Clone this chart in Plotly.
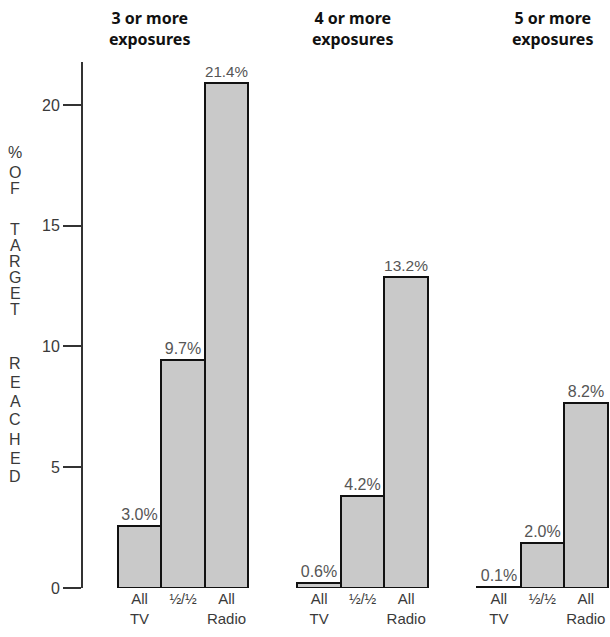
import plotly.graph_objects as go

groups = ["3 or more<br>exposures", "4 or more<br>exposures", "5 or more<br>exposures"]
media = ["All<br>TV", "½/½", "All<br>Radio"]
# bar heights as drawn in the picture (% of target reached)
heights = [
    [2.57, 9.44, 20.9],
    [0.2, 3.81, 12.88],
    [0.05, 1.86, 7.66],
]
value_labels = [
    ["3.0%", "9.7%", "21.4%"],
    ["0.6%", "4.2%", "13.2%"],
    ["0.1%", "2.0%", "8.2%"],
]
y_ticks = [0, 5, 10, 15, 20]
axis_title_letters = ["%", "O", "F", "T", "A", "R", "G", "E", "T", "R", "E", "A", "C", "H", "E", "D"]

# layout / style
W, H = 610, 637
L, R, T, B = 83, 0, 62, 49
PLOT_H = H - T - B
group_step = 4.13
bar_offsets = [-1, 0, 1]
title_offsets = [-0.76, -0.24, 0.23]
letter_y_px = [152, 172, 188, 229, 245, 261, 277, 293, 309, 363, 382, 401, 420, 439, 458, 476]

FILL = "#c9c9c9"
TXT = "#3a3a3a"
FONT = "Liberation Sans, Arial, sans-serif"

fig = go.Figure()
xs, ys, texts, tickv, tickt = [], [], [], [], []
for gi, g in enumerate(groups):
    for bi, m in enumerate(media):
        x = gi * group_step + bar_offsets[bi]
        xs.append(x)
        ys.append(heights[gi][bi])
        texts.append(value_labels[gi][bi])
        tickv.append(x)
        if m == "½/½":
            tickt.append("<span style='font-size:14px'>½/½</span>")
        else:
            tickt.append(m)

fig.add_trace(go.Bar(
    x=xs, y=ys, width=1.0,
    marker=dict(color=FILL, line=dict(color="#111111", width=2)),
    text=texts, textposition="outside",
    textfont=dict(family=FONT, size=16, color="#555555"),
    cliponaxis=False, showlegend=False, hoverinfo="skip",
))

annotations = []
for gi, g in enumerate(groups):
    annotations.append(dict(
        x=gi * group_step + title_offsets[gi], xref="x",
        y=(H - B - 28) / PLOT_H, yref="paper",
        text="<b>" + g + "</b>", showarrow=False,
        font=dict(family="Noto Sans, sans-serif", size=16, color="#111111"),
        align="center", xanchor="center", yanchor="middle",
    ))
for letter, ypx in zip(axis_title_letters, letter_y_px):
    annotations.append(dict(
        x=(15 - L) / (W - L - R), xref="paper",
        y=(H - B - ypx) / PLOT_H, yref="paper",
        text=letter, showarrow=False,
        font=dict(family=FONT, size=16, color=TXT),
        xanchor="center", yanchor="middle",
    ))

x_left = -(183 - L) / 43.5
x_right = x_left + (W - L - R) / 43.5

fig.update_layout(
    width=W, height=H,
    margin=dict(l=L, r=R, t=T, b=B, pad=0),
    paper_bgcolor="white", plot_bgcolor="white",
    bargap=0,
    annotations=annotations,
    xaxis=dict(
        range=[x_left, x_right], tickvals=tickv, ticktext=tickt,
        showline=False, showgrid=False, zeroline=False, ticks="",
        tickfont=dict(family=FONT, size=15, color=TXT),
        fixedrange=True, automargin=False,
    ),
    yaxis=dict(
        range=[0, 21.78], tickvals=y_ticks,
        showline=True, linecolor="#333333", linewidth=2,
        ticks="outside", ticklen=18, tickwidth=2, tickcolor="#333333",
        showgrid=False, zeroline=False,
        tickfont=dict(family=FONT, size=16, color=TXT),
        fixedrange=True, automargin=False,
    ),
)

fig.write_html(
    "out.html",
    config={"displayModeBar": False},
    post_script="document.body.style.margin='0';document.body.style.overflow='hidden';",
)
